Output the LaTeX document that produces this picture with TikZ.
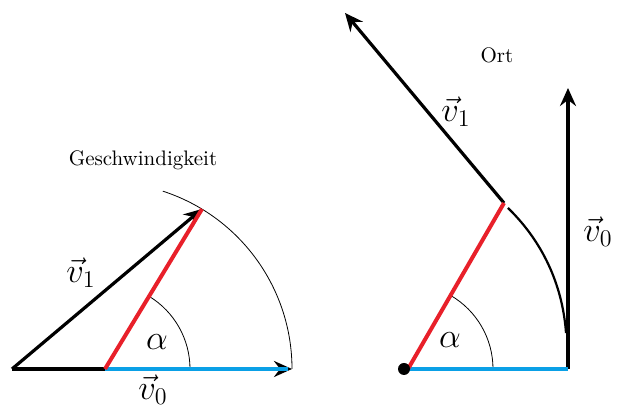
\documentclass[tikz,border=0pt]{standalone}
\usepackage{amsmath}
\usepackage{xcolor}
\definecolor{vblue}{HTML}{0AA0E6}
\definecolor{vred}{HTML}{E8202A}
\usepackage{tikz}
\usetikzlibrary{arrows.meta,calc}
\newcommand{\lbl}[1]{\LARGE$#1$}

\begin{document}
\begin{tikzpicture}[
  x=0.5pt, y=0.5pt,
  vec/.style={-{Stealth[length=9pt, width=8pt, inset=3pt]}, line width=1.6pt, draw=black},
  rad/.style={line width=2pt, draw=vred},
  base/.style={line width=2pt, draw=vblue},
  thin/.style={line width=0.4pt, draw=black},
  txt/.style={font=\fontsize{10.5}{12}\selectfont},
  mth/.style={inner sep=0pt}
]
\useasboundingbox (0,0) rectangle (617,410);

% Geschwindigkeit
\coordinate (A1) at (12,41);
\coordinate (O1) at (105,41);
\coordinate (T1) at (292,41);
\coordinate (P1) at (202,201);
\draw[thin] (T1) arc[start angle=0, end angle=72, radius=187];
\draw[thin] ($(O1)+(85,0)$) arc[start angle=0, end angle=58.8, radius=85];
\draw[vec] (A1) -- (T1);
\draw[base] (O1) -- ($(T1)+(-4,0)$);
\draw[vec] (A1) -- (P1);
\draw[rad] (O1) -- (P1);
\node[txt] (g) at (143,250) {Geschwindigkeit};
\node[mth] (v1a) at (81,137) {\lbl{\vec{v}_1}};
\node[mth] (v0a) at (153,20) {\lbl{\vec{v}_0}};
\node[mth] (aa) at (157,68) {\lbl{\alpha}};

% Ort
\coordinate (O2) at (408,41);
\coordinate (B2) at (568,41);
\coordinate (T2) at (568,322);
\coordinate (P2) at (504,207);
\coordinate (Q2) at (345,397);
\draw[thin] ($(O2)+(85,0)$) arc[start angle=0, end angle=60, radius=85];
\draw[line width=1.1pt] (566,77) .. controls (563,120) and (546,165) .. (508,202);
\draw[vec, line width=2pt] (B2) -- (T2);
\draw[vec] (P2) -- (Q2);
\draw[base] (O2) -- (B2);
\draw[rad] (O2) -- (P2);
\fill (404,41) circle[radius=6];
\node[txt] (o) at (497,355) {Ort};
\node[mth] (v1b) at (456,298) {\lbl{\vec{v}_1}};
\node[mth] (v0b) at (598,178) {\lbl{\vec{v}_0}};
\node[mth] (ab) at (450,70) {\lbl{\alpha}};
\end{tikzpicture}
\end{document}
